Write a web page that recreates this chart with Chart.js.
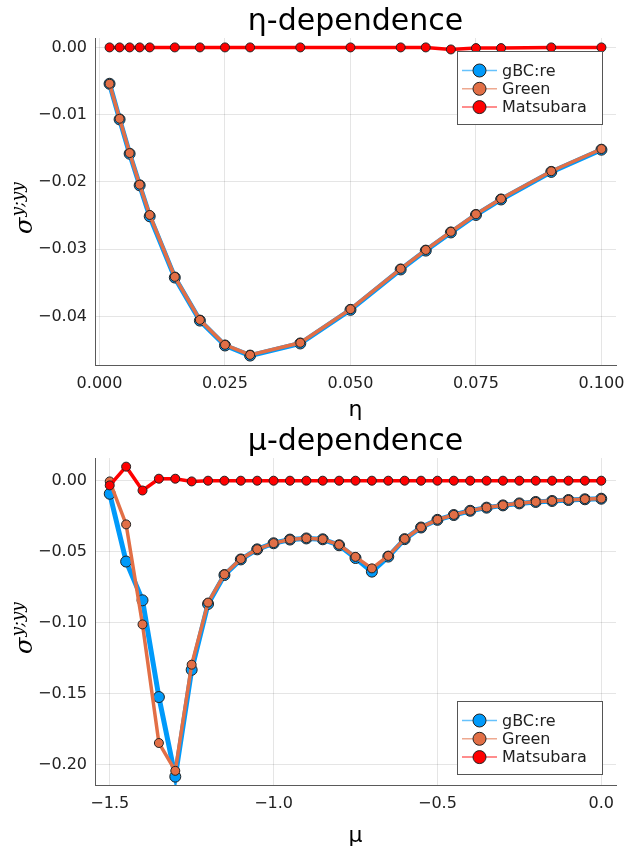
<!DOCTYPE html>
<html>
<head>
<meta charset="utf-8">
<script src="https://cdn.jsdelivr.net/npm/chart.js@4.4.1/dist/chart.umd.min.js"></script>
<style>
  html, body { margin: 0; padding: 0; background: #fff; }
  #wrap { position: relative; width: 629px; height: 846px; }
  .box { position: absolute; left: 0; width: 629px; }
  #topBox { top: 0; height: 420px; }
  #botBox { top: 420px; height: 426px; }
</style>
</head>
<body>
<div id="wrap">
  <div class="box" id="topBox"><canvas id="chartEta"></canvas></div>
  <div class="box" id="botBox"><canvas id="chartMu"></canvas></div>
</div>
<script>
// ---- eta dependence ----
const etaVals = [0.002, 0.004, 0.006, 0.008, 0.01, 0.015, 0.02, 0.025, 0.03,
                 0.04, 0.05, 0.06, 0.065, 0.07, 0.075, 0.08, 0.09, 0.1];
const etaGbc = [-0.0054, -0.0107, -0.0158, -0.0205, -0.0251, -0.0342, -0.0406, -0.0443, -0.0458,
                -0.0440, -0.0390, -0.0330, -0.0302, -0.0275, -0.0249, -0.0226, -0.0185, -0.0152];
const etaGreen = [-0.0054, -0.0106, -0.0157, -0.0204, -0.0249, -0.0341, -0.0405, -0.0442, -0.0457,
                  -0.0439, -0.0389, -0.0329, -0.0301, -0.0274, -0.0248, -0.0225, -0.0184, -0.0151];
const etaMats = [0, 0, 0, 0, 0, 0, 0, 0, 0,
                 0, 0, 0, 0, -0.0003, -0.0001, -0.0001, 0, 0];
const etaXTicks = [0, 0.025, 0.05, 0.075, 0.1];
const etaYTicks = [0, -0.01, -0.02, -0.03, -0.04];

// ---- mu dependence ----
const muVals = [-1.5, -1.45, -1.4, -1.35, -1.3, -1.25, -1.2, -1.15, -1.1, -1.05, -1.0,
                -0.95, -0.9, -0.85, -0.8, -0.75, -0.7, -0.65, -0.6, -0.55, -0.5,
                -0.45, -0.4, -0.35, -0.3, -0.25, -0.2, -0.15, -0.1, -0.05, 0];
const muGbc = [-0.0092, -0.0570, -0.0843, -0.1525, -0.2086, -0.1333, -0.0869, -0.0665, -0.0555, -0.0484, -0.0441,
               -0.0415, -0.0407, -0.0413, -0.0455, -0.0545, -0.0641, -0.0535, -0.0412, -0.0330, -0.0276,
               -0.0242, -0.0212, -0.0190, -0.0174, -0.0160, -0.0150, -0.0143, -0.0136, -0.0131, -0.0127];
const muGreen = [-0.0005, -0.0308, -0.1013, -0.1849, -0.2045, -0.1297, -0.0859, -0.0660, -0.0552, -0.0483, -0.0440,
                 -0.0414, -0.0406, -0.0412, -0.0452, -0.0537, -0.0618, -0.0530, -0.0410, -0.0329, -0.0275,
                 -0.0241, -0.0211, -0.0189, -0.0173, -0.0159, -0.0149, -0.0142, -0.0135, -0.0130, -0.0126];
const muMats = [-0.0033, 0.0099, -0.0069, 0.0014, 0.0014, -0.0005, 0, 0, 0, 0, 0,
                0, 0, 0, 0, 0, 0, 0, 0, 0, 0,
                0, 0, 0, 0, 0, 0, 0, 0, 0, 0];
const muXTicks = [-1.5, -1.0, -0.5, 0];
const muYTicks = [0, -0.05, -0.10, -0.15, -0.20];

const seriesNames = ['gBC:re', 'Green', 'Matsubara'];
const seriesColors = ['#009AFA', '#E26F46', '#FF0000'];

/** number label with a real minus sign, like the plotting backend does */
function fmt(v, d) {
  return (v < -1e-12 ? '\u2212' : '') + Math.abs(v).toFixed(d);
}

/** legend drawn as a framed box inside the plot area */
const boxLegend = {
  id: 'boxLegend',
  afterDatasetsDraw(chart, args, opts) {
    const ctx = chart.ctx, a = chart.chartArea;
    const w = 145, h = 73, rowH = 18.3;
    const x0 = a.right - opts.right - w;
    const y0 = opts.top != null ? a.top + opts.top : a.bottom - opts.bottom - h;
    ctx.save();
    ctx.fillStyle = '#fff';
    ctx.fillRect(x0, y0, w, h);
    ctx.strokeStyle = '#555';
    ctx.lineWidth = 1;
    ctx.strokeRect(Math.round(x0) + 0.5, Math.round(y0) + 0.5, w, h);
    chart.data.datasets.forEach((ds, i) => {
      const cy = y0 + 19.5 + i * rowH;
      ctx.strokeStyle = ds.borderColor;
      ctx.globalAlpha = 0.6;
      ctx.lineWidth = 1.5;
      ctx.beginPath();
      ctx.moveTo(x0 + 5, cy);
      ctx.lineTo(x0 + 40, cy);
      ctx.stroke();
      ctx.globalAlpha = 1;
      ctx.beginPath();
      ctx.arc(x0 + 22.5, cy, 6.5, 0, Math.PI * 2);
      ctx.fillStyle = ds.pointBackgroundColor;
      ctx.fill();
      ctx.strokeStyle = '#222';
      ctx.lineWidth = 1;
      ctx.stroke();
      ctx.fillStyle = '#222';
      ctx.font = '16px "DejaVu Sans"';
      ctx.textBaseline = 'middle';
      ctx.fillText(ds.label, x0 + 45, cy + 1);
    });
    ctx.restore();
  }
};

/** y axis title sigma^{y;yy}, rotated, with a raised superscript */
const sigmaTitle = {
  id: 'sigmaTitle',
  afterDraw(chart, args, opts) {
    const ctx = chart.ctx, a = chart.chartArea;
    const cy = (a.top + a.bottom) / 2 + opts.shift;
    ctx.save();
    ctx.translate(32, cy);
    ctx.rotate(-Math.PI / 2);
    ctx.fillStyle = '#000';
    ctx.textBaseline = 'alphabetic';
    const big = 'italic 24px "DejaVu Serif"', small = 'italic 17px "DejaVu Serif"';
    ctx.font = big;
    const w1 = ctx.measureText('σ').width;
    ctx.font = small;
    const w2 = ctx.measureText('y;yy').width;
    const x = -(w1 + w2) / 2;
    ctx.font = big;
    ctx.fillText('σ', x, 0);
    ctx.font = small;
    ctx.fillText('y;yy', x + w1 + 1, -9);
    ctx.restore();
  }
};

function makeSets(xs, gbc, green, mats) {
  const ys = [gbc, green, mats];
  const widths = [5, 3.5, 3.5];
  const radii = [5.5, 4.5, 4.5];
  return ys.map((arr, i) => ({
    label: seriesNames[i],
    data: xs.map((x, k) => ({ x: x, y: arr[k] })),
    borderColor: seriesColors[i],
    backgroundColor: seriesColors[i],
    pointBackgroundColor: seriesColors[i],
    pointBorderColor: '#222',
    pointBorderWidth: 1,
    pointRadius: radii[i],
    borderWidth: widths[i],
    tension: 0,
    order: 3 - i
  }));
}

function makeChart(el, cfg) {
  return new Chart(document.getElementById(el), {
    type: 'line',
    data: { datasets: makeSets(cfg.xs, cfg.gbc, cfg.green, cfg.mats) },
    plugins: [boxLegend, sigmaTitle],
    options: {
      responsive: true,
      maintainAspectRatio: false,
      animation: false,
      events: [],
      layout: { padding: { left: 0, right: 13, top: 0, bottom: 0 } },
      plugins: {
        legend: { display: false },
        tooltip: { enabled: false },
        title: {
          display: true,
          fullSize: false,
          text: cfg.title,
          color: '#000',
          font: { family: 'DejaVu Sans', size: 30, weight: 'normal', lineHeight: 1.2 },
          padding: { top: 4, bottom: -2 }
        },
        boxLegend: cfg.legend,
        sigmaTitle: { shift: 7 }
      },
      scales: {
        x: {
          type: 'linear',
          min: cfg.xMin,
          max: cfg.xMax,
          afterBuildTicks: s => { s.ticks = cfg.xTicks.map(v => ({ value: v })); },
          afterFit: s => { s.height = cfg.xAxisH; s.paddingLeft = 0; s.paddingRight = 0; },
          ticks: {
            autoSkip: false, maxRotation: 0, padding: 9, color: '#222',
            font: { family: 'DejaVu Sans', size: 16 },
            callback: v => fmt(v, cfg.xDec)
          },
          grid: { color: 'rgba(0,0,0,0.1)', drawTicks: false },
          border: { color: '#5a5a5a', width: 1 },
          title: {
            display: true, text: cfg.xLabel, color: '#000',
            font: { family: 'DejaVu Sans', size: 22, lineHeight: 0.9 },
            padding: { top: 0, bottom: 0 }
          }
        },
        y: {
          type: 'linear',
          min: cfg.yMin,
          max: cfg.yMax,
          afterBuildTicks: s => { s.ticks = cfg.yTicks.map(v => ({ value: v })); },
          afterFit: s => { s.width = 95; s.paddingTop = 0; s.paddingBottom = 0; },
          ticks: {
            autoSkip: false, padding: 8, color: '#222',
            font: { family: 'DejaVu Sans', size: 16 },
            callback: v => fmt(v, 2)
          },
          grid: { color: 'rgba(0,0,0,0.1)', drawTicks: false },
          border: { color: '#5a5a5a', width: 1 }
        }
      }
    }
  });
}

makeChart('chartEta', {
  title: 'η-dependence', xLabel: 'η',
  xs: etaVals, gbc: etaGbc, green: etaGreen, mats: etaMats,
  xMin: -0.0009, xMax: 0.1029, yMin: -0.0472, yMax: 0.0014,
  xTicks: etaXTicks, yTicks: etaYTicks, xDec: 3,
  xAxisH: 55,
  legend: { right: 14, top: 13 }
});

makeChart('chartMu', {
  title: 'μ-dependence', xLabel: 'μ',
  xs: muVals, gbc: muGbc, green: muGreen, mats: muMats,
  xMin: -1.545, xMax: 0.045, yMin: -0.2145, yMax: 0.016,
  xTicks: muXTicks, yTicks: muYTicks, xDec: 1,
  xAxisH: 61,
  legend: { right: 14, bottom: 11 }
});
</script>
</body>
</html>
